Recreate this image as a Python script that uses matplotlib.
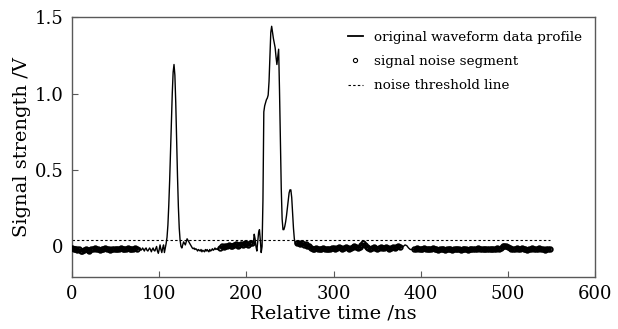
import numpy as np
import matplotlib
matplotlib.use("Agg")
import matplotlib.pyplot as plt
from matplotlib.lines import Line2D

plt.rcParams['font.family'] = ['DejaVu Serif']

# ---- data ----
# each segment: start time (ns), sampling step (ns), values (V)
noise1_start, noise1_step = 0, 2
noise1 = [-0.01, -0.015, -0.02, -0.025, -0.02, -0.03, -0.03, -0.025, -0.02, -0.025,
          -0.03, -0.02, -0.015, -0.01, -0.015, -0.02, -0.025, -0.02, -0.015, -0.01,
          -0.015, -0.02, -0.025, -0.02, -0.015, -0.02, -0.02, -0.015, -0.01, -0.015,
          -0.02, -0.015, -0.01, -0.015, -0.02, -0.015, -0.01, -0.015]

thin1_start, thin1_step = 76, 1
thin1 = [-0.015, -0.02, -0.01, -0.025, -0.02, -0.01, -0.02, -0.03, -0.015, -0.01,
         -0.025, -0.03, -0.02, -0.01, -0.02, -0.035, -0.02, -0.01, -0.025, -0.03,
         -0.015, 0.0, -0.03, -0.045, -0.02, 0.01, -0.02, -0.04, -0.01, 0.01,
         -0.04, -0.01]

peak1_start, peak1_step = 108, 1
peak1 = [0.02, 0.06, 0.14, 0.27, 0.43, 0.62, 0.82, 1.00, 1.14, 1.19,
         1.12, 0.94, 0.70, 0.46, 0.26, 0.12, 0.04, 0.0]

thin2_start, thin2_step = 126, 1
thin2 = [-0.01, 0.01, 0.03, 0.02, 0.01, 0.03, 0.05, 0.04, 0.03, 0.02,
         0.01, 0.0, -0.01, -0.015, -0.01, -0.02, -0.015, -0.02, -0.03, -0.02,
         -0.025, -0.03, -0.02, -0.035, -0.025, -0.03, -0.035, -0.02, -0.03, -0.02,
         -0.03, -0.035, -0.02, -0.03, -0.025, -0.015, -0.025, -0.02, -0.01, -0.02,
         -0.015, -0.02, -0.01, -0.01]

noise2_start, noise2_step = 170, 2
noise2 = [-0.01, 0.0, -0.005, 0.005, 0.0, 0.01, 0.005, 0.0, 0.01, 0.015,
          0.005, 0.01, 0.015, 0.01, 0.02, 0.015, 0.01, 0.02, 0.025]

peak2_start, peak2_step = 208, 1
peak2 = [0.02, 0.08, 0.05, 0.0, -0.03, 0.03, 0.09, 0.11, 0.04, -0.04, 0.0,
         0.30, 0.88, 0.92, 0.94, 0.96, 0.97, 0.99, 1.08, 1.25, 1.40,
         1.44, 1.40, 1.36, 1.33, 1.30, 1.24, 1.19, 1.24, 1.29, 1.02,
         0.68, 0.38, 0.18, 0.11, 0.11, 0.13, 0.16, 0.20, 0.25, 0.30,
         0.35, 0.37, 0.37, 0.32, 0.22, 0.12, 0.05, 0.02, 0.01]

noise3_start, noise3_step = 258, 2
noise3 = [0.02, 0.025, 0.015, 0.02, 0.01, 0.015, 0.005, 0.0,
          -0.01, -0.015, -0.02, -0.01, -0.015, -0.02, -0.015, -0.01, -0.015, -0.02,
          -0.02, -0.015, -0.01,
          -0.01, -0.015, -0.01, -0.005, -0.01, -0.015, -0.01, -0.005, -0.01, -0.015,
          -0.01, -0.005, 0.0, -0.005, -0.01, -0.005,
          0.01, 0.02, 0.01, -0.005, -0.01, -0.015, -0.01, -0.005, -0.01, -0.015,
          -0.01, -0.005, -0.01, -0.01, -0.005, -0.01, -0.015, -0.01, -0.005, -0.01,
          -0.005, 0.0, -0.005]

thin3_start, thin3_step = 378, 2
thin3 = [-0.005, 0.0, 0.01, 0.005, -0.01, -0.02, -0.02]

noise4_start, noise4_step = 392, 2
noise4 = [-0.02, -0.015, -0.01, -0.015, -0.02, -0.015, -0.01, -0.015, -0.02, -0.02,
          -0.015, -0.01, -0.015, -0.02, -0.025, -0.02, -0.015, -0.02, -0.025, -0.02,
          -0.015, -0.02, -0.025, -0.02, -0.015, -0.02, -0.02, -0.025, -0.02, -0.015,
          -0.02, -0.025, -0.02, -0.015, -0.02, -0.02, -0.015, -0.01, -0.015, -0.02,
          -0.02, -0.015, -0.02, -0.015, -0.02, -0.015, -0.02, -0.015, -0.01, -0.015,
          -0.01, 0.0, 0.005, 0.0, -0.005, -0.01, -0.015, -0.02, -0.015, -0.01,
          -0.02, -0.015, -0.01, -0.015, -0.02, -0.025, -0.02, -0.015, -0.01, -0.015,
          -0.02, -0.015, -0.01, -0.015, -0.02, -0.025, -0.02, -0.015, -0.02]

threshold_level = 0.04
threshold_span = [0, 548]

segments = [
    (noise1_start, noise1_step, noise1, True),
    (thin1_start, thin1_step, thin1, False),
    (peak1_start, peak1_step, peak1, False),
    (thin2_start, thin2_step, thin2, False),
    (noise2_start, noise2_step, noise2, True),
    (peak2_start, peak2_step, peak2, False),
    (noise3_start, noise3_step, noise3, True),
    (thin3_start, thin3_step, thin3, False),
    (noise4_start, noise4_step, noise4, True),
]

t_all, v_all, noise_mask = [], [], []
for start, step, vals, is_noise in segments:
    tt = start + step * np.arange(len(vals))
    t_all.extend(tt)
    v_all.extend(vals)
    noise_mask.extend([is_noise] * len(vals))
t_all = np.array(t_all, dtype=float)
v_all = np.array(v_all, dtype=float)
noise_mask = np.array(noise_mask)

# ---- figure ----
fig = plt.figure(figsize=(6.18, 3.29), dpi=100)
ax = fig.add_axes([0.1165, 0.158, 0.8465, 0.79])

ax.plot(t_all, v_all, color='black', lw=1.0, label='original waveform data profile', zorder=3)
ax.plot(t_all[noise_mask], v_all[noise_mask], ls='none', marker='o', ms=3.2,
        mfc='none', mec='black', mew=1.4, label='signal noise segment', zorder=4)
ax.plot(threshold_span, [threshold_level, threshold_level], color='black', lw=0.8,
        ls=(0, (2.2, 2.0)), label='noise threshold line', zorder=2)

ax.set_xlim(0, 600)
ax.set_ylim(-0.2, 1.5)
ax.set_xticks([0, 100, 200, 300, 400, 500, 600])
ax.set_yticks([0, 0.5, 1.0, 1.5])
ax.set_yticklabels(['0', '0.5', '1.0', '1.5'])
ax.tick_params(direction='in', length=4, width=0.8, color='0.35', labelsize=13,
               top=False, right=False, pad=6)
for s in ax.spines.values():
    s.set_color('0.35')
    s.set_linewidth(1.0)

ax.set_xlabel('Relative time /ns', fontsize=14, labelpad=1)
ax.set_ylabel('Signal strength /V', fontsize=14, labelpad=3)

handles = [
    Line2D([], [], color='black', lw=1.3),
    Line2D([], [], ls='none', marker='o', ms=3.0, mfc='none', mec='black', mew=0.8),
    Line2D([], [], color='black', lw=0.8, ls=(0, (2.2, 2.0))),
]
ax.legend(handles, ['original waveform data profile', 'signal noise segment',
                    'noise threshold line'],
          loc='upper right', frameon=False, fontsize=9.7, handlelength=1.1,
          handletextpad=0.8, labelspacing=0.85, borderaxespad=0.6)

fig.savefig('out.png', dpi=100)
